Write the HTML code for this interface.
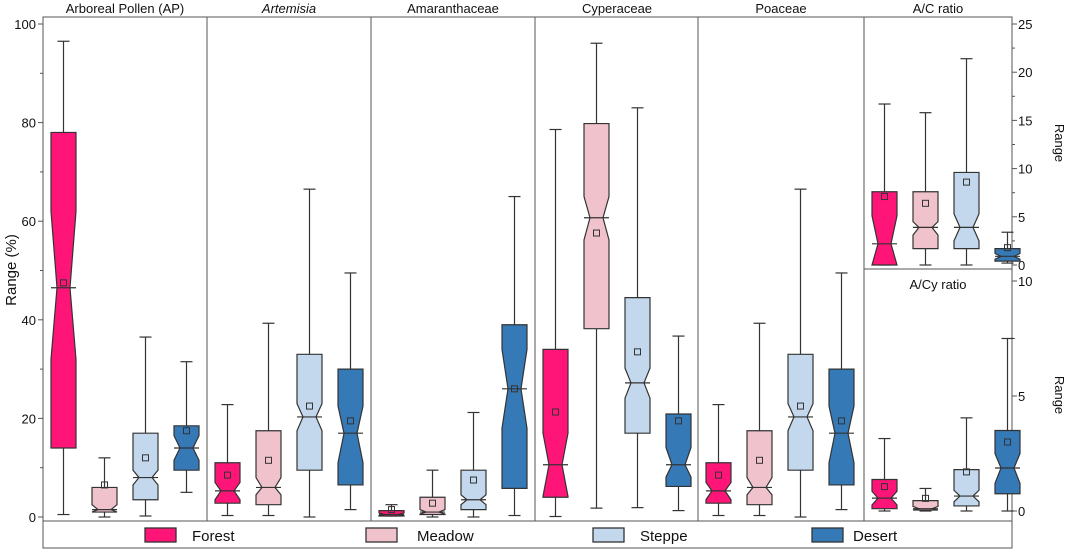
<!DOCTYPE html>
<html><head><meta charset="utf-8"><style>
body{margin:0;background:#fff;font-family:"Liberation Sans",sans-serif}
svg text{font-family:"Liberation Sans",sans-serif;fill:#111}
</style></head><body>
<svg id="c" width="1071" height="551">
<g id="frame"></g>
<g id="marks"></g>
</svg>
<script>
const panels=["Arboreal Pollen (AP)","Artemisia","Amaranthaceae","Cyperaceae","Poaceae","A/C ratio","A/Cy ratio"];
const groups=["Forest","Meadow","Steppe","Desert"];
const colors=["#ff1577","#f0c3cc","#c3d8ec","#3579b6"];
// each box: [whiskerMin, q1, notchLow, median, notchHigh, q3, whiskerMax, mean]
const apData=[[0.5,14,32,46.5,62,78,96.5,47.5],[0,1,1,1.5,2.5,6,12,6.5],[0.2,3.5,6.5,8,9.5,17,36.5,12],[5,9.5,11.5,14,16.5,18.5,31.5,17.5]];
const artData=[[0.3,2.8,3.5,5.3,7,11,22.8,8.5],[0.3,2.5,4.5,6,8,17.5,39.3,11.5],[0,9.5,17.5,20.3,23,33,66.5,22.5],[1.5,6.5,11,17,22.5,30,49.5,19.5]];
const amaData=[[0.2,0.2,0.3,0.5,0.8,1.3,2.5,1.5],[0,0.5,0.6,1,1.5,4,9.5,2.8],[0,1.5,2.5,3.5,4.5,9.5,21.2,7.5],[0.3,5.8,18,26,34,39,65,26]];
const cypData=[[0.1,4,4.2,10.6,17,34,78.6,21.3],[1.8,38.2,56.2,60.7,65,79.8,96.1,57.6],[1.9,17,24.1,27.2,30.2,44.5,83,33.5],[1.3,6.2,8.1,10.6,14.1,20.9,36.7,19.5]];
const poaData=[[0.3,2.8,3.5,5.3,7,11,22.8,8.5],[0.3,2.5,4.5,6,8,17.5,39.3,11.5],[0,9.5,17.5,20.3,23,33,66.5,22.5],[1.5,6.5,11,17,22.5,30,49.5,19.5]];
const acData=[[0,0,0,2.2,5.1,7.6,16.7,7.1],[0,1.7,3.1,3.9,4.5,7.6,15.8,6.4],[0,1.7,2.5,3.9,5.3,9.6,21.4,8.6],[0.2,0.4,0.6,0.9,1.2,1.7,3.4,1.8]];
const acyData=[[0,0.1,0.26,0.56,0.86,1.37,3.15,1.06],[0,0.04,0.04,0.1,0.2,0.45,0.98,0.55],[0,0.22,0.4,0.65,0.9,1.8,4.05,1.7],[0,0.75,1.2,1.87,2.5,3.5,7.5,3.0]];
const leftTicks=[0,20,40,60,80,100];
const acTicks=[0,5,10,15,20,25];
const acyTicks=[0,5,10];

const NS="http://www.w3.org/2000/svg";
const svg=document.getElementById('c'),F=document.getElementById('frame'),M=document.getElementById('marks');
function el(t,a,p){const e=document.createElementNS(NS,t);for(const k in a)e.setAttribute(k,a[k]);(p||F).appendChild(e);return e;}
const yPct=v=>517-v*4.93, yAC=v=>265-v*9.64, yACy=v=>511-v*23;
const L=43,R=1012,T=17,B=521;
const px=[43,207,371,535,698,864];
// frame
el('rect',{x:L,y:T,width:R-L,height:B-T,fill:'none',stroke:'#555','stroke-width':1});
for(let i=1;i<px.length;i++)el('line',{x1:px[i],y1:T,x2:px[i],y2:B,stroke:'#555'});
el('line',{x1:864,y1:269,x2:R,y2:269,stroke:'#555'});
// titles
const tpos=[125,289,453,617,781,938];
panels.forEach((p,i)=>{
 let t=el('text',{x:i<6?tpos[i]:938,y:i<6?13:289,'text-anchor':'middle','font-size':13});
 t.textContent=p; if(i===1)t.setAttribute('font-style','italic');
 
 
});
// left axis
for(let v=0;v<=100;v+=10){el('line',{x1:L-(v%20?3:5),y1:yPct(v),x2:L,y2:yPct(v),stroke:'#555'});}
leftTicks.forEach(v=>{let t=el('text',{x:L-7,y:yPct(v)+5,'text-anchor':'end','font-size':13});t.textContent=v;});
let yl=el('text',{x:16,y:270,'text-anchor':'middle','font-size':15,transform:'rotate(-90 16 270)'});yl.textContent='Range (%)';

// right axes
for(let v=0;v<=25;v+=2.5)el('line',{x1:R,y1:yAC(v),x2:R+(v%5?3:5),y2:yAC(v),stroke:'#555'});
acTicks.forEach(v=>{let t=el('text',{x:R+6,y:yAC(v)+5,'font-size':13});t.textContent=v;});
for(let v=0;v<=10;v+=2.5)el('line',{x1:R,y1:yACy(v),x2:R+(v%5?3:5),y2:yACy(v),stroke:'#555'});
acyTicks.forEach(v=>{let t=el('text',{x:R+6,y:yACy(v)+5,'font-size':13});t.textContent=v;});
[[1055,143],[1055,395]].forEach(([x,y],i)=>{let t=el('text',{x:x,y:y,'text-anchor':'middle','font-size':13,transform:`rotate(90 ${x} ${y})`});t.textContent='Range';
});
// boxes
const sets=[[apData,yPct,43],[artData,yPct,207],[amaData,yPct,371],[cypData,yPct,535],[poaData,yPct,698],[acData,yAC,864],[acyData,yACy,864]];
const W=25,NW=6.5;
sets.forEach(([data,y,x0],pi)=>{
 data.forEach((d,gi)=>{
  const cx=x0+20.5+gi*41,[wmin,q1,nl,med,nh,q3,wmax,mean]=d;
  const g=el('g',{},M);
  
  
  el('line',{x1:cx,y1:y(wmax),x2:cx,y2:y(q3),stroke:'#333','stroke-width':1.2},g);
  el('line',{x1:cx,y1:y(wmin),x2:cx,y2:y(q1),stroke:'#333','stroke-width':1.2},g);
  el('line',{x1:cx-6,y1:y(wmax),x2:cx+6,y2:y(wmax),stroke:'#333','stroke-width':1.2},g);
  el('line',{x1:cx-6,y1:y(wmin),x2:cx+6,y2:y(wmin),stroke:'#333','stroke-width':1.2},g);
  const l=cx-W/2,r=cx+W/2;
  const pts=[[l,y(q3)],[r,y(q3)],[r,y(nh)],[cx+NW,y(med)],[r,y(nl)],[r,y(q1)],[l,y(q1)],[l,y(nl)],[cx-NW,y(med)],[l,y(nh)]];
  el('polygon',{points:pts.map(p=>p.join(',')).join(' '),fill:colors[gi],stroke:'#333','stroke-width':1.2},g);
  el('line',{x1:l,y1:y(med),x2:r,y2:y(med),stroke:'#333','stroke-width':1.2},g);
  el('rect',{x:cx-3,y:y(mean)-3,width:6,height:6,fill:'none',stroke:'#333','stroke-width':1},g);
 });
});
// legend
el('rect',{x:L,y:B,width:R-L,height:27,fill:'none',stroke:'#555'});
const lx=[145,366,593,812],tx=[192,417,640,853];
groups.forEach((gname,i)=>{
 const g=el('g',{});
 
 
 el('rect',{x:lx[i],y:528,width:31,height:14,fill:colors[i],stroke:'#333','stroke-width':1.3},g);
 const t=el('text',{x:tx[i],y:541,'font-size':15},g);t.textContent=gname;
});
</script>
</body></html>
